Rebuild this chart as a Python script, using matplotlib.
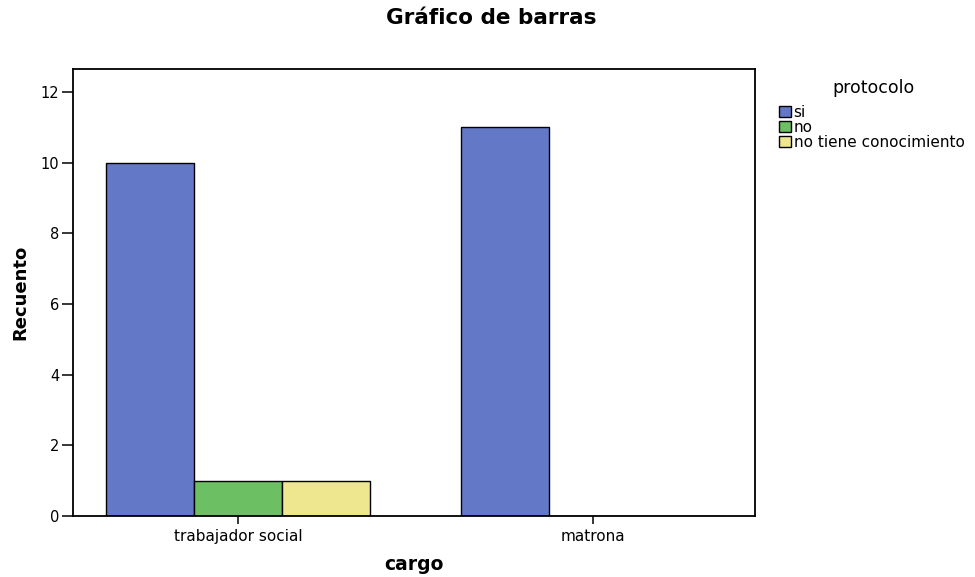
import numpy as np
import matplotlib
matplotlib.use("Agg")
import matplotlib.pyplot as plt

# datos del grafico
cargos = ["trabajador social", "matrona"]
protocolo = ["si", "no", "no tiene conocimiento"]
recuento_si = [10, 11]
recuento_no = [1, 0]
recuento_nc = [1, 0]
colores = ["#6478c8", "#6cbf62", "#efe690"]

plt.rcParams['font.family'] = ['DejaVu Sans']

fig = plt.figure(figsize=(9.75, 5.77), dpi=100)
ax = fig.add_axes([73/975, 1-516/577, 682/975, 447/577])

x = np.arange(len(cargos))
w = 0.248
series = [recuento_si, recuento_no, recuento_nc]
for i, (vals, nombre, col) in enumerate(zip(series, protocolo, colores)):
    ax.bar(x + (i - 1) * w, vals, width=w, color=col, edgecolor="black",
           linewidth=1.0, label=nombre)

ax.set_xlim(-0.465, 1.456)
ax.set_ylim(0, 12.65)
ax.set_yticks(range(0, 13, 2))
ax.set_xticks(x)
ax.set_xticklabels(cargos, fontsize=11)
ax.tick_params(axis="y", labelsize=10.5, length=8, width=1.1, pad=2)
ax.tick_params(axis="x", length=6, width=1.1)
for s in ax.spines.values():
    s.set_linewidth(1.3)

ax.set_ylabel("Recuento", fontsize=13, fontweight="bold", labelpad=8)
ax.set_xlabel("cargo", fontsize=13.5, fontweight="bold", labelpad=8)

fig.text(491/975, 1-18/577, "Gráfico de barras", ha="center", va="center",
         fontsize=15.5, fontweight="bold")

# titulo de la leyenda aparte, para dejar el hueco como en el original
fig.text(874/975, 1-88/577, "protocolo", ha="center", va="center", fontsize=12.5)
leg = ax.legend(loc="upper left", bbox_to_anchor=(773/975, 1-99/577),
                bbox_transform=fig.transFigure, frameon=False,
                fontsize=11, handlelength=0.75, handleheight=0.75,
                handletextpad=0.2, labelspacing=0.0, borderaxespad=0)

fig.savefig("out.png", dpi=100)
